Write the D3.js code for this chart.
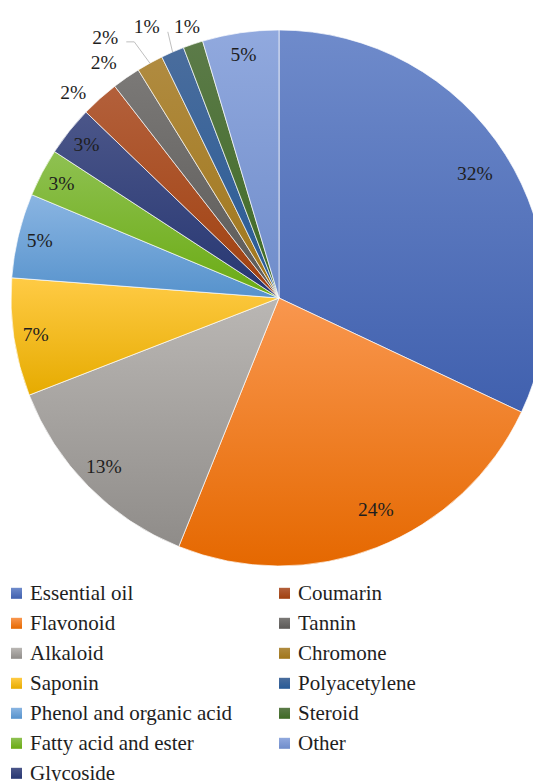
<!DOCTYPE html>
<html>
<head>
<meta charset="utf-8">
<script src="https://cdn.jsdelivr.net/npm/d3@7"></script>
<style>
  html, body { margin: 0; padding: 0; background: #fff; overflow: hidden; }
  svg { display: block; }
</style>
</head>
<body>
<svg id="chart" width="533" height="781"></svg>
<script>
// Compound classes and their share of all compounds (%)
const categories = [
  "Essential oil", "Flavonoid", "Alkaloid", "Saponin",
  "Phenol and organic acid", "Fatty acid and ester", "Glycoside",
  "Coumarin", "Tannin", "Chromone", "Polyacetylene", "Steroid", "Other"
];
const shares = [32.0, 24.1, 13.0, 7.1, 5.1, 2.9, 3.0, 2.3, 1.7, 1.6, 1.4, 1.2, 4.6];

// Gradient fill per class: lighter at the top, deeper at the bottom
const fillTop = [
  "#6f8bcb", "#f9974f", "#bab7b4", "#ffcb45", "#8ab5e2", "#8fc152", "#4b5689",
  "#b3603b", "#7b7977", "#b08b40", "#4a6d9d", "#5c7b49", "#91a9de"
];
const fillBottom = [
  "#4060ae", "#e56800", "#8f8c89", "#e6ab00", "#5692cc", "#6aab12", "#263672",
  "#a0400f", "#5b5957", "#a0761a", "#275a96", "#3e6a24", "#6f8cca"
];

// Outside labels for the thin slices: nudges away from the default spot,
// and whether a leader line ties the label back to its slice
const labelShift = {
  "Flavonoid": { dx: 12, dy: -5 },
  "Alkaloid": { dx: 0, dy: -4 },
  "Coumarin": { dx: -12, dy: 10 },
  "Tannin": { dx: -10, dy: 3 },
  "Chromone": { dx: -34, dy: -7, leader: true },
  "Polyacetylene": { dx: -17, dy: -5, leader: true },
  "Steroid": { dx: 1, dy: 3 }
};

const width = 533, height = 781;
const cx = 279, cy = 298, radius = 268;
const fontFamily = "'Liberation Serif', 'Times New Roman', serif";
const textColor = "#1e1e1e";

const svg = d3.select("#chart");
const defs = svg.append("defs");

categories.forEach((c, i) => {
  const grad = defs.append("linearGradient")
    .attr("id", "grad" + i)
    .attr("x1", 0).attr("y1", 0).attr("x2", 0).attr("y2", 1);
  grad.append("stop").attr("offset", 0).attr("stop-color", fillTop[i]);
  grad.append("stop").attr("offset", 1).attr("stop-color", fillBottom[i]);
});

const data = categories.map((name, i) => ({ name, value: shares[i], i }));
const total = d3.sum(shares);
const pct = d3.format(".0%");

const pie = d3.pie().value(d => d.value).sort(null);
const arcs = pie(data);
const arc = d3.arc().innerRadius(0).outerRadius(radius);

const g = svg.append("g").attr("transform", `translate(${cx},${cy})`);

g.selectAll("path.slice")
  .data(arcs)
  .join("path")
  .attr("class", "slice")
  .attr("d", arc)
  .attr("fill", d => `url(#grad${d.data.i})`)
  .attr("stroke", "#ffffff")
  .attr("stroke-width", 0.8)
  .attr("stroke-opacity", 0.85);

// Data labels: wide slices near the rim inside, thin slices outside
const bigLabelArc = d3.arc().innerRadius(radius * 0.866).outerRadius(radius * 0.866);
const smallLabelArc = d3.arc().innerRadius(radius * 0.918).outerRadius(radius * 0.918);
const outsideArc = d3.arc().innerRadius(radius + 22).outerRadius(radius + 22);
const rimArc = d3.arc().innerRadius(radius).outerRadius(radius);

const labelLayer = g.append("g");

arcs.forEach(d => {
  const share = d.data.value;
  let p;
  if (share >= 20) p = bigLabelArc.centroid(d);
  else if (share >= 2.5) p = smallLabelArc.centroid(d);
  else p = outsideArc.centroid(d);
  const shift = labelShift[d.data.name];
  if (shift) p = [p[0] + shift.dx, p[1] + shift.dy];

  const t = labelLayer.append("text")
    .attr("x", p[0])
    .attr("y", p[1])
    .attr("dy", "0.34em")
    .attr("text-anchor", "middle")
    .attr("font-family", fontFamily)
    .attr("font-size", 19.5)
    .attr("fill", textColor)
    .text(pct(share / total));

  if (shift && shift.leader) {
    const w = t.node().getComputedTextLength();
    const s = [p[0] + w / 2 + 8, p[1] + 5];
    const e = rimArc.centroid(d);
    const path = d3.path();
    path.moveTo(s[0], s[1]);
    if (e[0] - s[0] > 10) path.lineTo(s[0] + 8, s[1]);
    path.lineTo(e[0], e[1]);
    svg.append("path")
      .attr("transform", `translate(${cx},${cy})`)
      .attr("d", path.toString())
      .attr("fill", "none")
      .attr("stroke", "#bfbfbf")
      .attr("stroke-width", 1);
  }
});

// Legend: two columns below the pie
const legendTop = 593.3, rowGap = 30, perColumn = 7;
const colSwatchX = [11, 279], colTextX = [30, 298], sw = 11;

const legend = svg.append("g");
data.forEach((d, i) => {
  const col = Math.floor(i / perColumn);
  const row = i % perColumn;
  const y = legendTop + row * rowGap;
  legend.append("rect")
    .attr("x", colSwatchX[col])
    .attr("y", y - sw / 2)
    .attr("width", sw)
    .attr("height", sw)
    .attr("fill", `url(#grad${d.i})`);
  legend.append("text")
    .attr("x", colTextX[col])
    .attr("y", y)
    .attr("dy", "0.34em")
    .attr("font-family", fontFamily)
    .attr("font-size", 21)
    .attr("fill", textColor)
    .text(d.name);
});
</script>
</body>
</html>
